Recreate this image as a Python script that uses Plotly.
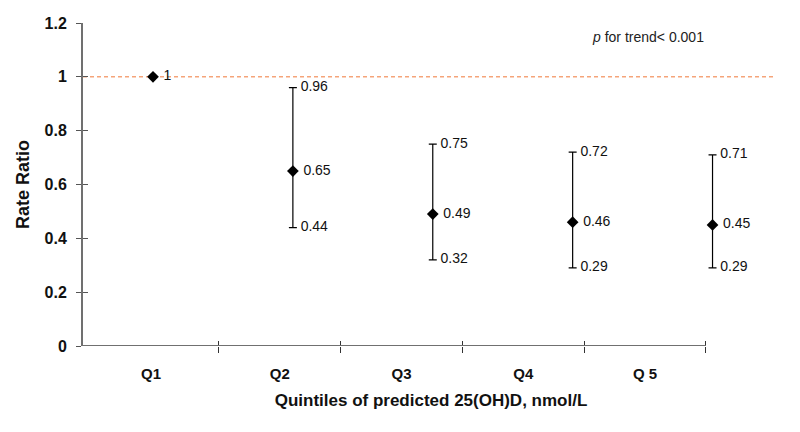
import plotly.graph_objects as go

categories = ["Q1", "Q2", "Q3", "Q4", "Q 5"]
rate_ratio = [1.0, 0.65, 0.49, 0.46, 0.45]
ci_upper = [1.0, 0.96, 0.75, 0.72, 0.71]
ci_lower = [1.0, 0.44, 0.32, 0.29, 0.29]
y_ticks = [0, 0.2, 0.4, 0.6, 0.8, 1.0, 1.2]
y_tick_labels = ["0", "0.2", "0.4", "0.6", "0.8", "1", "1.2"]

# layout helpers (category boundaries at 1..5, axis starts a bit before 0)
x_start = -0.117
x_end = 5.0
boundaries = [1, 2, 3, 4, 5]
label_pos = [(x_start + 1) / 2, 1.5, 2.5, 3.5, 4.5]
point_x = [0.458 + 1.149 * i for i in range(len(categories))]

def fmt(v):
    return "1" if v == 1.0 else f"{v:.2f}"

has_ci = [u != l for u, l in zip(ci_upper, ci_lower)]
err_plus = [u - r for u, r in zip(ci_upper, rate_ratio)]
err_minus = [r - l for r, l in zip(rate_ratio, ci_lower)]

FONT = "Liberation Sans, Arial"
label_font = dict(family=FONT, size=14, color="#111111")

fig = go.Figure()
fig.add_trace(go.Scatter(
    x=point_x, y=rate_ratio, mode="markers+text",
    marker=dict(symbol="diamond", size=9, color="black"),
    text=[" " + fmt(v) for v in rate_ratio], textposition="middle right",
    textfont=label_font,
    error_y=dict(type="data", symmetric=False, array=err_plus, arrayminus=err_minus,
                 color="black", thickness=1.2, width=4),
    cliponaxis=False, showlegend=False,
))
ux = [x for x, h in zip(point_x, has_ci) if h]
fig.add_trace(go.Scatter(
    x=ux, y=[u for u, h in zip(ci_upper, has_ci) if h], mode="text",
    text=["  " + fmt(u) for u, h in zip(ci_upper, has_ci) if h], textposition="middle right",
    textfont=label_font, cliponaxis=False, showlegend=False,
))
fig.add_trace(go.Scatter(
    x=ux, y=[l for l, h in zip(ci_lower, has_ci) if h], mode="text",
    text=["  " + fmt(l) for l, h in zip(ci_lower, has_ci) if h], textposition="middle right",
    textfont=label_font, cliponaxis=False, showlegend=False,
))

# reference line at 1
fig.add_shape(type="line", xref="x", yref="y", x0=x_start, x1=5.56, y0=1, y1=1,
              line=dict(color="#F07838", width=1, dash="4px,3px"), layer="below")
# x axis baseline
fig.add_shape(type="line", xref="x", yref="y", x0=x_start, x1=x_end, y0=0, y1=0,
              line=dict(color="#707070", width=2), layer="above")

fig.add_annotation(xref="paper", yref="paper", x=(648 - 83) / (779 - 83),
                   y=(432 - 86 - 37) / (432 - 86 - 23),
                   showarrow=False, xanchor="center", yanchor="middle",
                   text="<i>p</i> for trend&lt; 0.001",
                   font=dict(family=FONT, size=14, color="#222222"))

xr = [x_start, 5.6]
fig.update_layout(
    width=800, height=432,
    margin=dict(l=83, r=21, t=23, b=86),
    paper_bgcolor="white", plot_bgcolor="white",
    font=dict(family=FONT),
    xaxis=dict(range=xr, tickvals=label_pos, ticktext=["<b>%s</b>" % c for c in categories], ticks="",
               showline=False, showgrid=False, zeroline=False, automargin=False,
               tickfont=dict(family=FONT, size=15, color="#111111"),
               ticklabelstandoff=17,
               minor=dict(tickvals=boundaries, ticks="outside", ticklen=6, tickcolor="#333333", tickwidth=1),
               title=dict(text="<b>Quintiles of predicted 25(OH)D, nmol/L</b>",
                          font=dict(family=FONT, size=17, color="#111111"),
                          standoff=13)),
    xaxis2=dict(overlaying="x", matches="x", range=xr, tickvals=boundaries, ticks="inside",
                ticklen=5, tickcolor="#333333", showticklabels=False, showgrid=False,
                zeroline=False, showline=False, automargin=False),
    yaxis=dict(range=[0, 1.2], tickvals=y_ticks, ticktext=["<b>%s</b>" % t for t in y_tick_labels],
               ticks="outside", ticklen=5, tickcolor="#555555", showline=True, linecolor="#707070",
               linewidth=2, showgrid=False, zeroline=False, automargin=False,
               tickfont=dict(family=FONT, size=16, color="#111111"),
               ticklabelstandoff=6,
               title=dict(text="<b>Rate Ratio</b>", font=dict(family=FONT, size=18, color="#111111"),
                          standoff=10)),
    yaxis2=dict(overlaying="y", range=[0, 1.2], tickvals=y_ticks, ticks="inside", ticklen=5,
                tickcolor="#555555", showticklabels=False, showgrid=False, zeroline=False,
                showline=False, automargin=False),
)
# invisible trace so the overlay axes render
fig.add_trace(go.Scatter(x=[x_start], y=[0], xaxis="x2", yaxis="y2", mode="markers",
                         marker=dict(opacity=0), showlegend=False, hoverinfo="skip"))

fig.write_html("out.html", config={"displayModeBar": False},
               post_script="document.body.style.margin='0';")
